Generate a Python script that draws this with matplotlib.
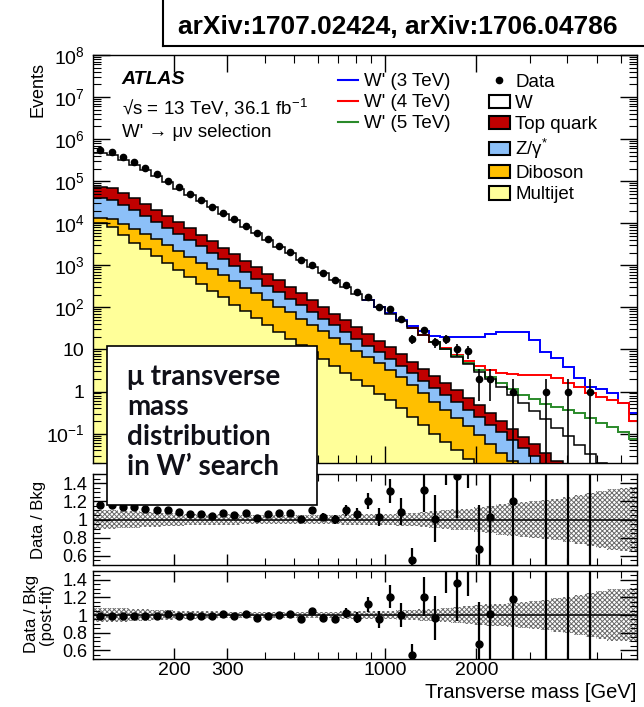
import numpy as np
import matplotlib
matplotlib.use('Agg')
import matplotlib.pyplot as plt
from matplotlib.patches import Patch, Rectangle
from matplotlib.lines import Line2D
from matplotlib.ticker import FixedLocator, FixedFormatter, NullFormatter, MultipleLocator, LogLocator

plt.rcParams['font.family'] = ['Liberation Sans', 'DejaVu Sans']
plt.rcParams['mathtext.fontset'] = 'custom'
plt.rcParams['mathtext.rm'] = 'Liberation Sans'
plt.rcParams['mathtext.it'] = 'Liberation Sans:italic'
plt.rcParams['mathtext.bf'] = 'Liberation Sans:bold'
plt.rcParams['hatch.linewidth'] = 0.7

# bin edges of the transverse mass [GeV]
edges = [108, 119.7, 130.3, 141.8, 154.4, 168.0, 182.9, 199.0, 216.6, 235.8,
         256.6, 279.3, 304.0, 330.9, 360.1, 391.9, 426.6, 464.3, 505.3, 550.0,
         598.6, 651.5, 709.1, 771.8, 840.0, 914.3, 995.1, 1083, 1179, 1283,
         1397, 1520, 1654, 1801, 1960, 2133, 2322, 2527, 2750, 2993,
         3258, 3546, 3859, 4200, 4572, 4976, 5416, 5894, 6415, 6800]

# background components (events per bin)
w_bkg = [393600, 359000, 272300, 206600, 153200, 110900, 78540, 55600, 40270, 28510,
         20190, 13970, 9888, 6840, 4842, 3350, 2318, 1641, 1135, 785,
         544, 376, 260, 180, 125, 85.8, 59.6, 40.3, 27.3, 18.4,
         12.5, 8.42, 5.69, 3.76, 2.48, 1.64, 1.09, 0.70, 0.452, 0.292,
         0.184, 0.116, 0.0732, 0.0452, 0.0279, 0.0168, 0.0101, 0.0061, 0.0036]
top_bkg = [35220, 32120, 24370, 18490, 13700, 9925, 7028, 4975, 3604, 2551,
           1806, 1250, 885, 612, 433, 300, 207, 147, 102, 70.3,
           48.6, 33.7, 23.3, 16.1, 11.1, 7.68, 5.33, 3.61, 2.44, 1.65,
           1.11, 0.753, 0.509, 0.337, 0.222, 0.147, 0.097, 0.0627, 0.0404, 0.0261,
           0.0165, 0.0104, 0.0066, 0.004, 0.0025, 0.0015, 0.0009, 0.00055, 0.00032]
z_bkg = [25400, 22900, 17150, 13000, 9520, 6800, 4745, 3360, 2400, 1670,
         1164, 792, 561, 381, 265, 180, 124, 86.3, 58.5, 39.6,
         26.8, 18.6, 12.5, 8.47, 5.69, 3.81, 2.65, 1.75, 1.29, 0.908,
         0.655, 0.46, 0.328, 0.224, 0.154, 0.105, 0.072, 0.047, 0.031, 0.021,
         0.0134, 0.0086, 0.0055, 0.0035, 0.0021, 0.0013, 0.0008, 0.0005, 0.00026]
diboson_bkg = [3490, 4650, 4640, 3940, 3220, 2510, 1900, 1360, 1050, 785,
               581, 415, 300, 214, 158, 113, 78.7, 57.7, 41.1, 29.5,
               21.0, 14.5, 10.4, 7.42, 5.29, 3.79, 2.62, 1.84, 1.16, 0.754,
               0.475, 0.309, 0.194, 0.123, 0.075, 0.0475, 0.029, 0.018, 0.011, 0.0065,
               0.0038, 0.0023, 0.0013, 0.0008, 0.0005, 0.0003, 0.0002, 0.0001, 0.0001]
multijet_bkg = [10000, 7940, 5130, 3470, 2400, 1660, 1120, 776, 537, 363,
                251, 174, 117, 81.3, 56.2, 38.0, 26.3, 18.2, 12.6, 8.51,
                5.89, 4.07, 2.75, 1.91, 1.32, 0.891, 0.617, 0.398, 0.251, 0.158,
                0.100, 0.063, 0.040, 0.025, 0.016, 0.010, 0.0063, 0.004, 0.0025, 0.0016,
                0.001, 0.0006, 0.0004, 0.00025, 0.00016, 0.0001, 0.00006, 0.00004, 0.000025]

# observed events
data = [542600, 494800, 368900, 279900, 203800, 145000, 102600, 71400, 50700, 35900,
        24950, 17760, 12340, 8697, 5869, 4220, 2947, 2087, 1362, 1026,
        665, 447, 340, 227, 179, 105, 93, 52, 18, 29,
        15, 18, 10, 9, 2, 2, 0, 1, 0, 0,
        1, 0, 1, 0, 1, 0, 0, 0, 0]

# W' signals (events per bin, drawn on top of the background)
sig_3tev = [0] * 24 + [1.0, 1.5, 2.0, 3.0, 4.0, 6.0, 6.0, 10, 13, 15.5,
                       17, 22, 25, 25.5, 25.5, 16.5, 8.5, 6.2, 3.7, 2.0,
                       1.25, 1.1, 0.9, 0.53, 0.31]
sig_4tev = [0] * 28 + [0.3, 0.4, 0.5, 0.6, 0.7, 0.8, 1.0, 1.3, 1.5, 1.8,
                       2.0, 2.1, 2.2, 2.0, 1.55, 1.2, 0.9, 0.72, 0.6, 0.52, 0.19]
sig_5tev = [0] * 30 + [0.1, 0.12, 0.15, 0.2, 0.25, 0.28, 0.3, 0.3, 0.3, 0.3,
                       0.3, 0.3, 0.28, 0.25, 0.2, 0.16, 0.13, 0.1, 0.07]

# data / background after the fit
ratio_postfit = [0.99, 0.99, 0.99, 0.99, 0.99, 0.99, 1.01, 0.99, 0.99, 0.99,
                 0.99, 1.01, 0.99, 1.01, 0.97, 0.99, 1.00, 1.01, 0.96, 1.04,
                 0.97, 0.95, 1.02, 0.97, 1.12, 0.95, 1.21, 1.00, 0.54, 1.21,
                 0.97, 1.64, 1.36, 1.83, 0.67, 1.01, np.nan, 1.18, np.nan, np.nan,
                 4.2, np.nan, 10.5, np.nan, 28, np.nan, np.nan, np.nan, np.nan]

# relative background uncertainty (hatched bands)
unc_prefit = [0.10, 0.10, 0.095, 0.09, 0.085, 0.08, 0.075, 0.07, 0.065, 0.06,
              0.06, 0.055, 0.055, 0.05, 0.05, 0.05, 0.05, 0.05, 0.05, 0.05,
              0.05, 0.05, 0.055, 0.055, 0.06, 0.06, 0.065, 0.07, 0.075, 0.08,
              0.09, 0.10, 0.11, 0.12, 0.14, 0.15, 0.17, 0.18, 0.19, 0.20,
              0.21, 0.23, 0.25, 0.27, 0.29, 0.31, 0.33, 0.35, 0.36]
unc_postfit = [0.08, 0.08, 0.075, 0.07, 0.065, 0.06, 0.055, 0.05, 0.045, 0.04,
               0.04, 0.035, 0.035, 0.035, 0.035, 0.035, 0.035, 0.035, 0.035, 0.035,
               0.035, 0.035, 0.04, 0.04, 0.045, 0.05, 0.05, 0.055, 0.06, 0.065,
               0.07, 0.08, 0.09, 0.10, 0.11, 0.12, 0.13, 0.14, 0.15, 0.16,
               0.17, 0.19, 0.21, 0.23, 0.25, 0.27, 0.29, 0.30, 0.31]

edges = np.array(edges)
centers = np.sqrt(edges[:-1] * edges[1:])
data = np.array(data, dtype=float)
bkg = (np.array(w_bkg) + np.array(top_bkg) + np.array(z_bkg)
       + np.array(diboson_bkg) + np.array(multijet_bkg))

fig = plt.figure(figsize=(6.44, 7.07), dpi=100)
W, H = 644, 707
ax = fig.add_axes([93 / W, 1 - 463 / H, 544 / W, 408 / H])
r1 = fig.add_axes([93 / W, 1 - 565 / H, 544 / W, 91 / H])
r2 = fig.add_axes([93 / W, 1 - 659 / H, 544 / W, 88 / H])
for a in (ax, r1, r2):
    a.set_xscale('log')
    a.set_xlim(108, 6800)
ax.set_yscale('log')

# --- main panel: stacked backgrounds
stack = [multijet_bkg, diboson_bkg, z_bkg, top_bkg, w_bkg]
colors = ['#ffff99', '#ffbf00', '#8cc0f8', '#c00000', 'white']
floor = 1e-6
base = np.full(len(centers), floor)
tops = []
for vals, col in zip(stack, colors):
    top = base + np.array(vals)
    ax.stairs(np.maximum(top, floor), edges, baseline=np.maximum(base, floor),
              fill=True, facecolor=col, edgecolor='none', zorder=1)
    tops.append(top)
    base = top
for top in tops:
    ax.stairs(np.maximum(top, floor), edges, baseline=None, color='black', lw=1.1, zorder=3)

# signals
sig_colors = ['#0000ff', '#ff0000', '#2a8a2a']
for sig, col in zip([sig_3tev, sig_4tev, sig_5tev], sig_colors):
    sig = np.array(sig, dtype=float)
    i0 = np.argmax(sig > 0)
    ax.stairs((bkg + sig)[i0:], edges[i0:], baseline=None, color=col, lw=1.4, zorder=2)

# data
m = data > 0
ax.errorbar(centers[m], data[m], yerr=np.sqrt(data[m]), fmt='o', ms=4.5, color='black',
            elinewidth=1.2, capsize=0, zorder=5)

ax.set_ylim(0.02, 1e8)
decades = [1e-1, 1, 10, 1e2, 1e3, 1e4, 1e5, 1e6, 1e7, 1e8]
dec_labels = [r'10$^{-1}$', '1', '10', r'10$^{2}$', r'10$^{3}$', r'10$^{4}$',
              r'10$^{5}$', r'10$^{6}$', r'10$^{7}$', r'10$^{8}$']
ax.yaxis.set_major_locator(FixedLocator(decades))
ax.yaxis.set_major_formatter(FixedFormatter(dec_labels))
ax.yaxis.set_minor_locator(LogLocator(base=10, subs=np.arange(2, 10), numticks=30))
ax.yaxis.set_minor_formatter(NullFormatter())

xmaj = [200, 300, 1000, 2000]
xmin = [400, 500, 600, 700, 800, 900, 3000, 4000, 5000, 6000]
for a in (ax, r1, r2):
    a.xaxis.set_major_locator(FixedLocator(xmaj))
    a.xaxis.set_minor_locator(FixedLocator(xmin))
    a.xaxis.set_major_formatter(NullFormatter())
    a.xaxis.set_minor_formatter(NullFormatter())
    a.tick_params(which='both', direction='in', top=True, right=True, labelsize=14)
    for s in a.spines.values():
        s.set_linewidth(1.0)
ax.tick_params(which='major', length=12, width=1)
ax.tick_params(which='minor', length=6, width=0.8)
ax.tick_params(axis='y', pad=6)

# text
ax.text(0.053, 0.939, 'ATLAS', transform=ax.transAxes, fontsize=14, fontweight='bold',
        style='italic', va='center', ha='left')
ax.text(0.053, 0.870, r'√s = 13 TeV, 36.1 fb$^{-1}$', transform=ax.transAxes,
        fontsize=13.5, va='center', ha='left')
ax.text(0.053, 0.809, "W' → μν selection", transform=ax.transAxes,
        fontsize=13.5, va='center', ha='left')

# legends
sig_handles = [Line2D([], [], color=c, lw=1.5) for c in sig_colors]
leg1 = ax.legend(sig_handles, ["W' (3 TeV)", "W' (4 TeV)", "W' (5 TeV)"],
                 loc='upper left', bbox_to_anchor=(0.450, 0.955), frameon=False,
                 fontsize=13.5, handlelength=1.1, handletextpad=0.3, labelspacing=0.2,
                 borderaxespad=0, borderpad=0)
ax.add_artist(leg1)
bkg_handles = [Line2D([], [], marker='o', ls='none', color='black', ms=4.5)]
bkg_handles += [Patch(facecolor=c, edgecolor='black', lw=1.5) for c in
                ['white', '#c00000', '#8cc0f8', '#ffbf00', '#ffff99']]
ax.legend(bkg_handles, ['Data', 'W', 'Top quark', r'Z/γ$^{*}$', 'Diboson', 'Multijet'],
          loc='upper left', bbox_to_anchor=(0.728, 0.955), frameon=False,
          fontsize=13.5, handlelength=1.1, handleheight=0.75, handletextpad=0.3,
          labelspacing=0.2, borderaxespad=0, borderpad=0)

# --- ratio panels
def ratio_panel(a, ratio, err, unc):
    unc_ext = np.append(unc, unc[-1])
    a.fill_between(edges, 1 - unc_ext, 1 + unc_ext, step='post', facecolor='none',
                   edgecolor='#6a6a6a', hatch='xxxxxxx', linewidth=0, zorder=1)
    a.axhline(1, color='black', lw=1.1, zorder=2)
    a.errorbar(centers, ratio, yerr=err, fmt='o', ms=5, color='black',
               elinewidth=1.6, capsize=0, zorder=4)
    a.set_ylim(0.5, 1.5)
    a.yaxis.set_major_locator(FixedLocator([0.6, 0.8, 1.0, 1.2, 1.4]))
    a.yaxis.set_major_formatter(FixedFormatter(['0.6', '0.8', '1', '1.2', '1.4']))
    a.yaxis.set_minor_locator(MultipleLocator(0.05))
    a.tick_params(axis='y', which='major', length=12, width=1, labelsize=13, pad=4)
    a.tick_params(axis='y', which='minor', length=5, width=0.8)
    a.tick_params(axis='x', which='major', length=8, width=1)
    a.tick_params(axis='x', which='minor', length=5, width=0.8)

ratio_pre = np.where(m, data / bkg, np.nan)
err_pre = np.where(m, np.sqrt(data) / bkg, np.nan)
ratio_post = np.array(ratio_postfit)
err_post = np.where(m, ratio_post / np.sqrt(np.where(m, data, 1)), np.nan)
ratio_panel(r1, ratio_pre, err_pre, np.array(unc_prefit))
ratio_panel(r2, ratio_post, err_post, np.array(unc_postfit))
r2.xaxis.set_major_formatter(FixedFormatter(['200', '300', '1000', '2000']))
r2.tick_params(axis='x', labelsize=14, pad=2)

# axis titles
fig.text(38 / W, 1 - 62 / H, 'Events', rotation=90, ha='center', va='top', fontsize=13)
fig.text(38 / W, 1 - 520 / H, 'Data / Bkg', rotation=90, ha='center', va='center', fontsize=12)
fig.text(39 / W, 1 - 614 / H, 'Data / Bkg\n(post-fit)', rotation=90, ha='center',
         va='center', fontsize=12, multialignment='center', linespacing=1.05)
fig.text(636 / W, 1 - 693 / H, 'Transverse mass [GeV]', ha='right', va='center', fontsize=14.5)

# header box
fig.add_artist(Line2D([163 / W, 163 / W], [1, 1 - 46 / H], transform=fig.transFigure,
                      color='black', lw=1.5))
fig.add_artist(Line2D([163 / W, 1], [1 - 46 / H, 1 - 46 / H], transform=fig.transFigure,
                      color='black', lw=1.5))
fig.text(398 / W, 1 - 27 / H, 'arXiv:1707.02424, arXiv:1706.04786', ha='center', va='center',
         fontsize=19, fontweight='bold')

# inset note
fig.add_artist(Rectangle((107 / W, 1 - 505 / H), 210 / W, 159 / H, transform=fig.transFigure,
                         facecolor='white', edgecolor='black', lw=1.2, zorder=10))
note = ['μ transverse', 'mass', 'distribution', 'in W’ search']
for i, line in enumerate(note):
    fig.text(127 / W, 1 - (377 + 30 * i) / H, line, ha='left', va='center', fontsize=20,
             fontweight='bold', family=['Lato', 'DejaVu Sans'], color='#101018', zorder=11)

fig.savefig('out.png', dpi=100)
